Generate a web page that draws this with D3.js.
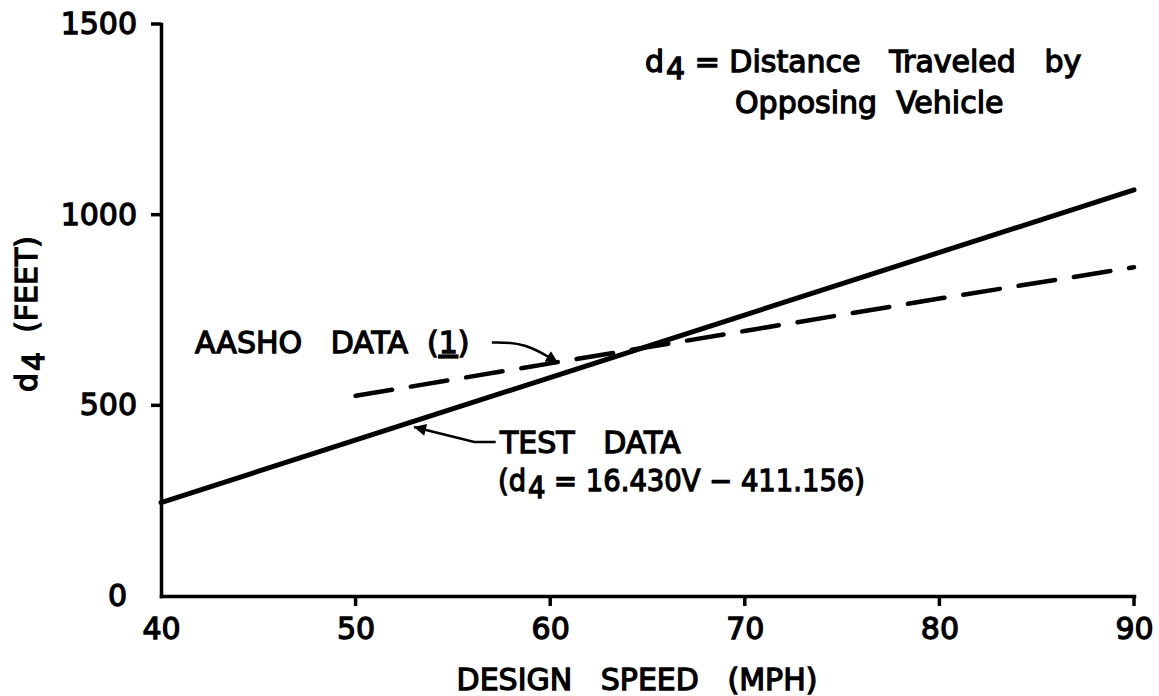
<!DOCTYPE html>
<html>
<head>
<meta charset="utf-8">
<title>d4 vs design speed</title>
<style>
body { margin: 0; background: #fff; }
text {
  font-family: "DejaVu Sans", sans-serif;
  font-size: 30px;
  fill: #000;
  stroke: #000;
  stroke-width: 1.3px;
}
</style>
</head>
<body>
<script src="https://cdn.jsdelivr.net/npm/d3@7/dist/d3.min.js"></script>
<script>

// values
var speedTicks = [40, 50, 60, 70, 80, 90];
var distanceTicks = [0, 500, 1000, 1500];

var testSpeed = [40, 90];
var testDistance = [245, 1065];

var aashoSpeed = [50, 60, 70, 80, 90];
var aashoDistance = [525, 610, 695, 780, 862];

var width = 1159,
    height = 696;

var svg = d3.select("body").append("svg")
    .attr("width", width)
    .attr("height", height);

var x = d3.scaleLinear().domain([40, 90]).range([161, 1134]);
var y = d3.scaleLinear().domain([0, 1500]).range([596, 24]);

// arrow head
svg.append("defs").append("marker")
    .attr("id", "head")
    .attr("viewBox", "0 0 10 10")
    .attr("refX", 10)
    .attr("refY", 5)
    .attr("markerUnits", "userSpaceOnUse")
    .attr("markerWidth", 18)
    .attr("markerHeight", 12)
    .attr("orient", "auto")
  .append("path")
    .attr("d", "M0,0L10,5L0,10Z")
    .attr("fill", "#000");

// axes (labels from d3.axis, tick marks drawn below)
var xAxis = svg.append("g")
    .attr("transform", "translate(0," + y(0) + ")")
    .call(d3.axisBottom(x).tickValues(speedTicks).tickFormat(d3.format("d"))
      .tickSize(0).tickPadding(22));

var yAxis = svg.append("g")
    .attr("transform", "translate(" + x(40) + ",0)")
    .call(d3.axisLeft(y).tickValues(distanceTicks).tickFormat(d3.format("d"))
      .tickSize(0).tickPadding(24));

yAxis.selectAll(".tick").filter(function(d) { return d === 0; }).select("text").attr("x", -34);

svg.selectAll(".domain")
    .attr("stroke", "#000")
    .attr("stroke-width", 3.5)
    .attr("stroke-linecap", "square");

svg.selectAll(".tick text")
    .attr("fill", null);
svg.selectAll("g").attr("font-family", null).attr("font-size", null);

svg.append("g").selectAll("line")
    .data(speedTicks.filter(function(d) { return d !== 40; }))
    .enter().append("line")
    .attr("x1", function(d) { return x(d); })
    .attr("x2", function(d) { return x(d); })
    .attr("y1", y(0))
    .attr("y2", y(0) + 10)
    .attr("stroke", "#000")
    .attr("stroke-width", 3.5);

svg.append("g").selectAll("line")
    .data(distanceTicks.filter(function(d) { return d !== 0; }))
    .enter().append("line")
    .attr("x1", x(40))
    .attr("x2", x(40) - 10)
    .attr("y1", function(d) { return y(d); })
    .attr("y2", function(d) { return y(d); })
    .attr("stroke", "#000")
    .attr("stroke-width", 3.5);

// lines
var line = d3.line()
    .x(function(d) { return x(d[0]); })
    .y(function(d) { return y(d[1]); });

svg.append("path")
    .datum(d3.zip(testSpeed, testDistance))
    .attr("d", line)
    .attr("fill", "none")
    .attr("stroke", "#000")
    .attr("stroke-width", 5)
    .attr("stroke-linecap", "round");

svg.append("path")
    .datum(d3.zip(aashoSpeed, aashoDistance))
    .attr("d", line)
    .attr("fill", "none")
    .attr("stroke", "#000")
    .attr("stroke-width", 4.5)
    .attr("stroke-linecap", "round")
    .attr("stroke-dasharray", "37,19");

// leader arrows (in data units)
var aashoArrow = [[57.0, 665], [58.7, 665], [60.4, 612]];
var testArrow = [[57.2, 404], [56.1, 404], [53.0, 443]];

svg.append("path")
    .datum(aashoArrow)
    .attr("d", line.curve(d3.curveBasis))
    .attr("fill", "none")
    .attr("stroke", "#000")
    .attr("stroke-width", 2.5)
    .attr("marker-end", "url(#head)");

svg.append("path")
    .datum(testArrow)
    .attr("d", line.curve(d3.curveLinear))
    .attr("fill", "none")
    .attr("stroke", "#000")
    .attr("stroke-width", 2.5)
    .attr("marker-end", "url(#head)");

// axis titles
svg.append("text")
    .attr("x", 637)
    .attr("y", 690)
    .attr("text-anchor", "middle")
    .style("white-space", "pre")
    .text("DESIGN   SPEED   (MPH)");

var yt = svg.append("text")
    .attr("transform", "translate(37,314) rotate(-90)")
    .attr("text-anchor", "middle")
    .style("white-space", "pre");
yt.append("tspan").text("d");
yt.append("tspan").attr("dx", 2).attr("dy", 7).text("4");
yt.append("tspan").attr("dy", -7).text("  (FEET)");

// annotations
var t1 = svg.append("text").attr("x", 645).attr("y", 72).style("white-space", "pre");
t1.append("tspan").text("d");
t1.append("tspan").attr("dx", 2).attr("dy", 7).text("4");
t1.append("tspan").attr("dy", -7).text(" = Distance   Traveled   by");

svg.append("text")
    .attr("x", 735).attr("y", 113)
    .style("white-space", "pre")
    .text("Opposing  Vehicle");

var t2 = svg.append("text").attr("x", 195).attr("y", 353).style("white-space", "pre");
t2.append("tspan").text("AASHO   DATA  (");
t2.append("tspan").attr("text-decoration", "underline").text("1");
t2.append("tspan").text(")");

svg.append("text")
    .attr("x", 500).attr("y", 453)
    .style("white-space", "pre")
    .text("TEST   DATA");

var t3 = svg.append("text").attr("x", 498).attr("y", 491)
    .attr("textLength", 367)
    .attr("lengthAdjust", "spacingAndGlyphs")
    .style("white-space", "pre");
t3.append("tspan").text("(d");
t3.append("tspan").attr("dx", 2).attr("dy", 7).text("4");
t3.append("tspan").attr("dy", -7).text(" = 16.430V \u2212 411.156)");

</script>
</body>
</html>
